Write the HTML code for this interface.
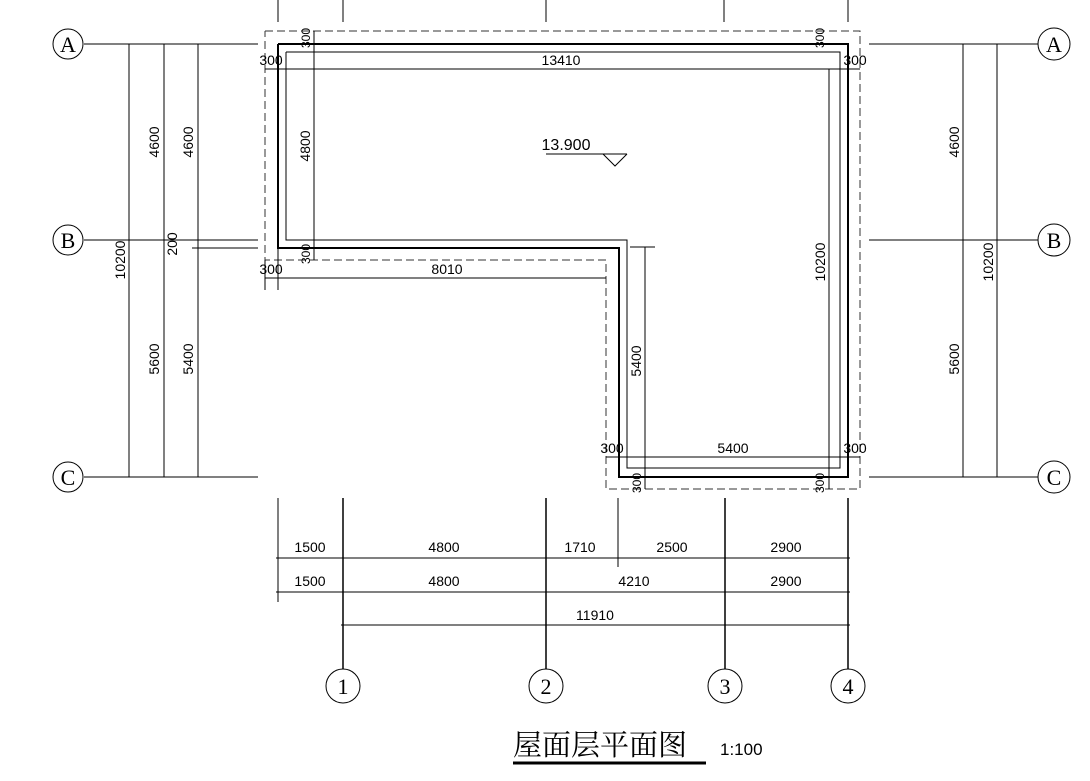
<!DOCTYPE html>
<html><head><meta charset="utf-8"><style>
html,body{margin:0;padding:0;background:#fff;}
svg{display:block}
text{font-family:"Liberation Sans Narrow","Liberation Sans",sans-serif;fill:#000}
.g text{font-family:"Liberation Serif",serif;font-size:22px}
.t text{font-size:14px}
</style></head><body>
<svg width="1090" height="781" viewBox="0 0 1090 781" xmlns="http://www.w3.org/2000/svg">
<g stroke="#000" fill="none" stroke-width="1">
<line x1="278" y1="0" x2="278" y2="22"/><line x1="343" y1="0" x2="343" y2="22"/>
<line x1="546" y1="0" x2="546" y2="22"/><line x1="724" y1="0" x2="724" y2="22"/>
<line x1="848" y1="0" x2="848" y2="22"/>
<polyline stroke="#333" stroke-dasharray="8,4" points="265,31 860,31 860,489 606,489 606,260 265,260 265,31"/>
<polyline stroke-width="2" points="278,44 848,44 848,477 619,477 619,248 278,248 278,44"/>
<polyline points="286,52 840,52 840,468 627,468 627,240 286,240 286,52"/>
<line x1="265" y1="69" x2="860" y2="69"/>
<line x1="314" y1="31" x2="314" y2="260"/>
<line x1="265" y1="278" x2="606" y2="278"/>
<line x1="265" y1="260" x2="265" y2="290"/><line x1="278" y1="248" x2="278" y2="290"/>
<line x1="645" y1="247" x2="645" y2="489"/><line x1="630" y1="247" x2="655" y2="247"/>
<line x1="829" y1="69" x2="829" y2="489"/>
<line x1="606" y1="457" x2="860" y2="457"/>
<line x1="546" y1="154" x2="627" y2="154"/>
<polyline points="603,154 615,166 627,154"/>
<line x1="84" y1="44" x2="258" y2="44"/><line x1="84" y1="240" x2="258" y2="240"/>
<line x1="84" y1="477" x2="258" y2="477"/>
<line x1="192" y1="248" x2="258" y2="248"/>
<line x1="129" y1="44" x2="129" y2="477"/><line x1="164" y1="44" x2="164" y2="477"/>
<line x1="198" y1="44" x2="198" y2="477"/>
<circle cx="68" cy="44" r="15"/><circle cx="68" cy="240" r="15"/><circle cx="68" cy="477" r="15"/>
<line x1="869" y1="44" x2="1038" y2="44"/><line x1="869" y1="240" x2="1038" y2="240"/>
<line x1="869" y1="477" x2="1038" y2="477"/>
<line x1="963" y1="44" x2="963" y2="477"/><line x1="997" y1="44" x2="997" y2="477"/>
<circle cx="1054" cy="44" r="16"/><circle cx="1054" cy="240" r="16"/><circle cx="1054" cy="477" r="16"/>
<line x1="278" y1="498" x2="278" y2="602"/>
<line x1="343" y1="498" x2="343" y2="669" stroke-width="1.5"/>
<line x1="546" y1="498" x2="546" y2="669" stroke-width="1.5"/>
<line x1="725" y1="498" x2="725" y2="669" stroke-width="1.5"/>
<line x1="848" y1="498" x2="848" y2="669" stroke-width="1.5"/>
<line x1="618" y1="498" x2="618" y2="567"/>
<line x1="276" y1="558" x2="850" y2="558"/>
<line x1="276" y1="592" x2="850" y2="592"/>
<line x1="341" y1="625" x2="850" y2="625"/>
<circle cx="343" cy="686" r="17"/><circle cx="546" cy="686" r="17"/>
<circle cx="725" cy="686" r="17"/><circle cx="848" cy="686" r="17"/>
<line x1="513" y1="763" x2="706" y2="763" stroke-width="3"/>
</g>
<g class="g" text-anchor="middle">
<text x="68" y="52">A</text><text x="68" y="248">B</text><text x="68" y="485">C</text>
<text x="1054" y="52">A</text><text x="1054" y="248">B</text><text x="1054" y="485">C</text>
<text x="343" y="694">1</text><text x="546" y="694">2</text><text x="725" y="694">3</text><text x="848" y="694">4</text>
</g>
<g class="t" text-anchor="middle">
<text x="561" y="65">13410</text>
<text x="271" y="65" font-size="12">300</text><text x="855" y="65" font-size="12">300</text>
<text x="447" y="274">8010</text><text x="271" y="274" font-size="12">300</text>
<text x="733" y="453">5400</text><text x="612" y="453" font-size="12">300</text><text x="855" y="453" font-size="12">300</text>
<text x="566" y="150" style="font-size:16px">13.900</text>
<text x="310" y="552">1500</text><text x="444" y="552">4800</text><text x="580" y="552">1710</text>
<text x="672" y="552">2500</text><text x="786" y="552">2900</text>
<text x="310" y="586">1500</text><text x="444" y="586">4800</text><text x="634" y="586">4210</text>
<text x="786" y="586">2900</text>
<text x="595" y="620">11910</text>
<text transform="translate(125,260) rotate(-90)">10200</text>
<text transform="translate(159,142) rotate(-90)">4600</text>
<text transform="translate(193,142) rotate(-90)">4600</text>
<text transform="translate(159,359) rotate(-90)">5600</text>
<text transform="translate(193,359) rotate(-90)">5400</text>
<text transform="translate(177,244) rotate(-90)">200</text>
<text transform="translate(310,146) rotate(-90)">4800</text>
<text transform="translate(641,361) rotate(-90)">5400</text>
<text transform="translate(825,262) rotate(-90)">10200</text>
<text transform="translate(959,142) rotate(-90)">4600</text>
<text transform="translate(993,262) rotate(-90)">10200</text>
<text transform="translate(959,359) rotate(-90)">5600</text>
<text transform="translate(310,38) rotate(-90)" style="font-size:12px">300</text>
<text transform="translate(310,254) rotate(-90)" style="font-size:12px">300</text>
<text transform="translate(824,38) rotate(-90)" style="font-size:12px">300</text>
<text transform="translate(641,483) rotate(-90)" style="font-size:12px">300</text>
<text transform="translate(824,483) rotate(-90)" style="font-size:12px">300</text>
</g>
<text x="513" y="755" style="font-family:'Liberation Serif','Noto Serif CJK SC',serif;font-size:29px">屋面层平面图</text>
<text x="720" y="755" style="font-size:17px">1:100</text>
</svg>
</body></html>
